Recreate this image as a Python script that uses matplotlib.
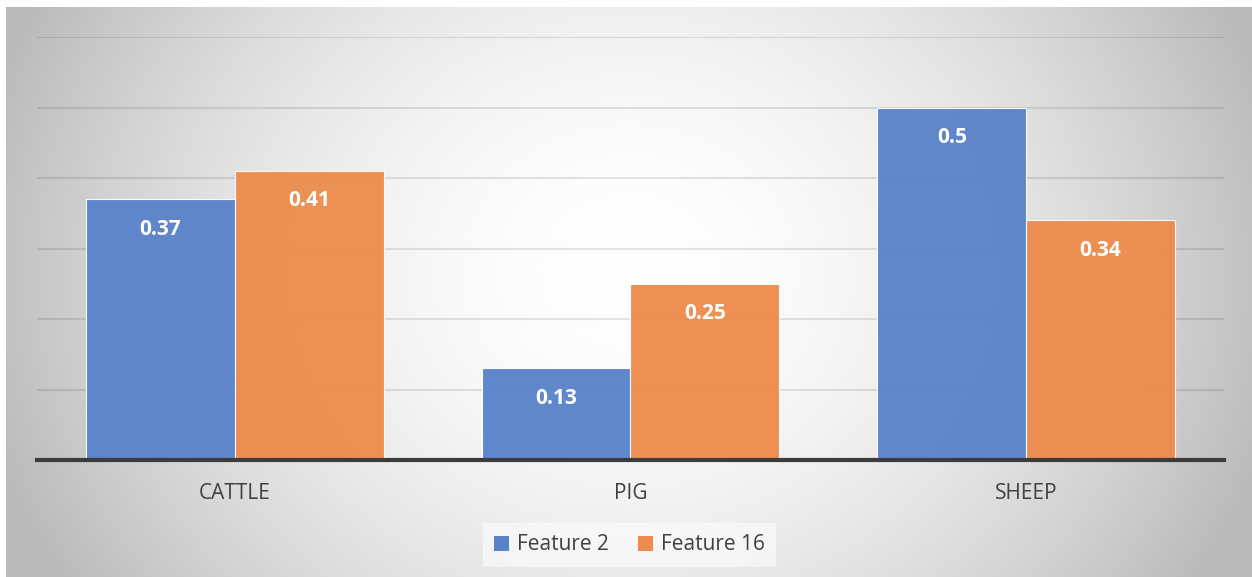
import numpy as np
import matplotlib
matplotlib.use("Agg")
import matplotlib.pyplot as plt
from matplotlib.patches import Patch

categories = ["CATTLE", "PIG", "SHEEP"]
series_names = ["Feature 2", "Feature 16"]
feature2 = [0.37, 0.13, 0.5]
feature16 = [0.41, 0.25, 0.34]
colors = ["#5A82CA", "#EE8C4D"]

W, H = 1252, 577
fig = plt.figure(figsize=(W / 100, H / 100), dpi=100)
fig.patch.set_facecolor("white")

# background radial gradient (chart area)
bx0, by0 = 6, 7
bg = fig.add_axes([bx0 / W, 0, (W - bx0) / W, (H - by0) / H])
bg.set_axis_off()
ys, xs = np.mgrid[by0:H, bx0:W]
cx, cy = 629, 270
r = np.sqrt(((xs - cx) / 640.0) ** 2 + ((ys - cy) / 560.0) ** 2)
r = np.clip(r, 0, 1.05)
val = 1 - 0.25 * r ** 1.8
img = np.dstack([val, val, val])
bg.imshow(img, aspect="auto", extent=[0, 1, 0, 1], interpolation="bilinear")
bg.set_xlim(0, 1)
bg.set_ylim(0, 1)

ax = fig.add_axes([37 / W, (H - 460) / H, 1187 / W, 423 / H])
ax.set_facecolor("none")
x = np.arange(len(categories))
bw = 0.376
b1 = ax.bar(x - bw / 2, feature2, width=bw, color=colors[0], edgecolor="white",
            linewidth=0.8, alpha=0.96, label=series_names[0], zorder=2)
b2 = ax.bar(x + bw / 2, feature16, width=bw, color=colors[1], edgecolor="white",
            linewidth=0.8, alpha=0.96, label=series_names[1], zorder=2)

for bars, vals in ((b1, feature2), (b2, feature16)):
    for rect, v in zip(bars, vals):
        ax.annotate(f"{v:g}", (rect.get_x() + rect.get_width() / 2, v),
                    xytext=(0, -21.5), textcoords="offset points",
                    ha="center", va="center", color="white",
                    fontsize=15, fontweight="bold", family="Open Sans", zorder=3)

ax.set_xlim(-0.5, 2.5)
ax.set_ylim(0, 0.6)
ax.set_yticks(np.arange(0, 0.61, 0.1))
ax.yaxis.grid(True, color="black", alpha=0.1, linewidth=1.5, zorder=1)
ax.set_axisbelow(True)
ax.tick_params(axis="y", left=False, labelleft=False)
ax.tick_params(axis="x", length=0, pad=16.5, labelsize=15, labelcolor="#404040")
ax.set_xticks(x)
ax.set_xticklabels(categories, family="Open Sans")
for s in ("top", "right", "left"):
    ax.spines[s].set_visible(False)
ax.spines["bottom"].set_color("#3c3c3c")
ax.spines["bottom"].set_linewidth(3)
ax.spines["bottom"].set_zorder(4)

handles = [Patch(facecolor=c, edgecolor="none") for c in colors]
leg = fig.legend(handles, series_names, loc="center", bbox_to_anchor=(629.5 / W, 1 - 545 / H),
                 ncol=2, frameon=True, fancybox=False, edgecolor="none",
                 facecolor="white", framealpha=0.55, handlelength=0.7, handleheight=0.7,
                 handletextpad=0.4, columnspacing=1.4, borderpad=0.55,
                 prop={"family": "Open Sans", "size": 15})
leg._legend_box.sep = 0
for t in leg.get_texts():
    t.set_color("#404040")

fig.savefig("out.png", dpi=100)
